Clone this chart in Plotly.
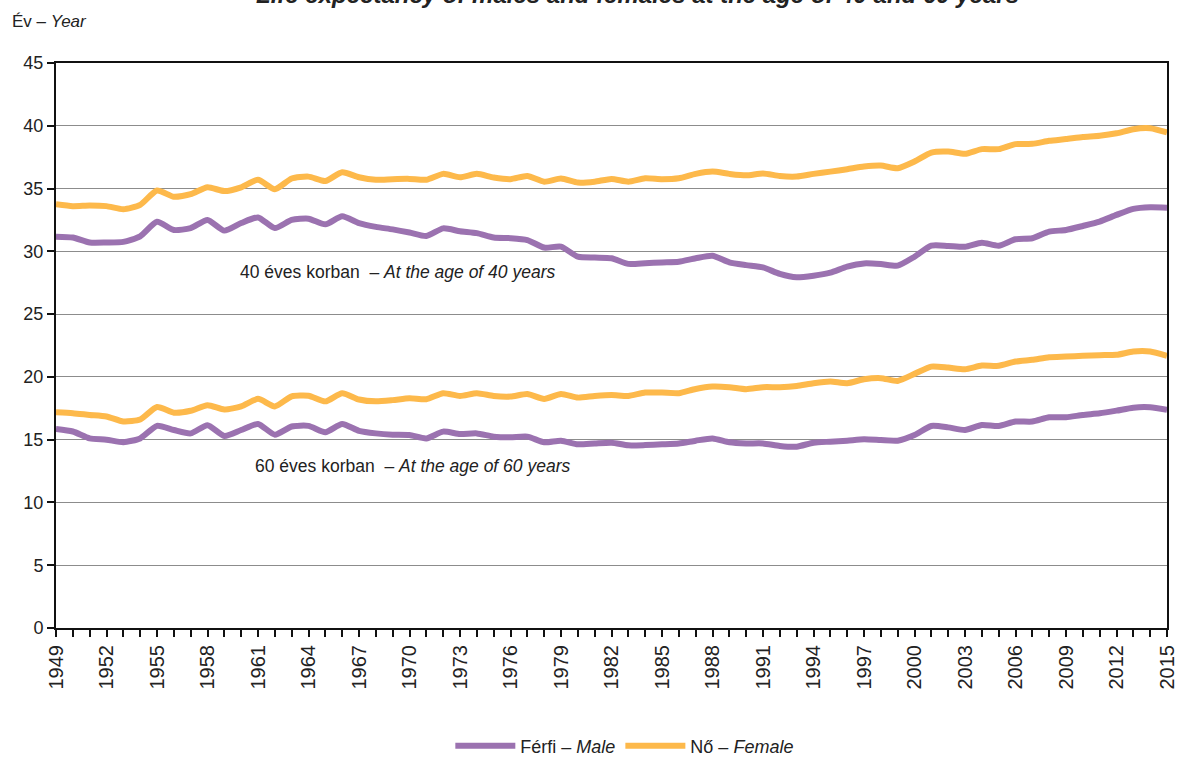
import plotly.graph_objects as go

years = list(range(1949, 2016))

male_40 = [31.17, 31.1, 30.7, 30.7, 30.75, 31.2, 32.35, 31.7, 31.85, 32.5,
           31.65, 32.25, 32.7, 31.85, 32.5, 32.6, 32.15, 32.8, 32.25, 31.95,
           31.75, 31.5, 31.22, 31.83, 31.6, 31.45, 31.1, 31.05, 30.9, 30.3,
           30.37, 29.57, 29.5, 29.45, 29.0, 29.05, 29.12, 29.17, 29.45, 29.65,
           29.12, 28.9, 28.72, 28.2, 27.93, 28.06, 28.3, 28.78, 29.04, 28.99,
           28.86, 29.57, 30.45, 30.43, 30.37, 30.69, 30.45, 30.96, 31.04, 31.57,
           31.7, 32.02, 32.37, 32.9, 33.38, 33.51, 33.48]

female_40 = [33.75, 33.6, 33.65, 33.6, 33.35, 33.7, 34.85, 34.35, 34.55, 35.1,
             34.8, 35.1, 35.7, 34.95, 35.8, 35.95, 35.6, 36.3, 35.9, 35.7,
             35.75, 35.77, 35.7, 36.17, 35.9, 36.17, 35.88, 35.75, 36.0, 35.55,
             35.8, 35.48, 35.55, 35.77, 35.55, 35.82, 35.75, 35.82, 36.17, 36.35,
             36.17, 36.05, 36.2, 36.0, 35.96, 36.17, 36.35, 36.54, 36.75, 36.83,
             36.62, 37.15, 37.87, 37.95, 37.77, 38.14, 38.14, 38.54, 38.56, 38.8,
             38.94, 39.1, 39.2, 39.4, 39.73, 39.8, 39.47]

male_60 = [15.85, 15.65, 15.1, 15.0, 14.8, 15.1, 16.1, 15.77, 15.5, 16.15,
           15.3, 15.77, 16.25, 15.4, 16.05, 16.1, 15.6, 16.25, 15.7, 15.5,
           15.4, 15.37, 15.1, 15.64, 15.45, 15.5, 15.24, 15.19, 15.24, 14.79,
           14.92, 14.63, 14.7, 14.76, 14.55, 14.57, 14.63, 14.7, 14.92, 15.1,
           14.79, 14.7, 14.7, 14.5, 14.44, 14.76, 14.84, 14.92, 15.03, 14.97,
           14.92, 15.37, 16.09, 15.98, 15.77, 16.17, 16.09, 16.44, 16.44, 16.78,
           16.78, 16.97, 17.1, 17.31, 17.55, 17.58, 17.37]

female_60 = [17.18, 17.1, 16.97, 16.85, 16.45, 16.6, 17.6, 17.15, 17.3, 17.75,
             17.4, 17.65, 18.25, 17.65, 18.45, 18.5, 18.05, 18.7, 18.2, 18.05,
             18.15, 18.3, 18.22, 18.7, 18.48, 18.7, 18.48, 18.43, 18.64, 18.24,
             18.64, 18.35, 18.48, 18.56, 18.48, 18.75, 18.75, 18.7, 19.04, 19.23,
             19.18, 19.02, 19.18, 19.18, 19.28, 19.5, 19.63, 19.5, 19.81, 19.9,
             19.68, 20.24, 20.82, 20.74, 20.61, 20.9, 20.88, 21.22, 21.36, 21.57,
             21.62, 21.68, 21.73, 21.76, 22.02, 22.02, 21.68]

male_name = "Férfi – <i>Male</i>"
female_name = "Nő – <i>Female</i>"
title_text = "<b><i>Life expectancy of males and females at the age of 40 and 60 years</i></b>"
label_40 = "40 éves korban  – <i>At the age of 40 years</i>"
label_60 = "60 éves korban  – <i>At the age of 60 years</i>"
y_title = "Év – <i>Year</i>"

PURPLE = "#9b72b0"
ORANGE = "#fdb94b"
FONT = "Liberation Sans Narrow, Liberation Sans, Arial, sans-serif"
TXT = "#222222"

fig = go.Figure()
fig.add_trace(go.Scatter(x=years, y=male_40, mode="lines", name=male_name,
                         line=dict(color=PURPLE, width=6, shape="spline", smoothing=0.6),
                         legendgroup="m"))
fig.add_trace(go.Scatter(x=years, y=female_40, mode="lines", name=female_name,
                         line=dict(color=ORANGE, width=6, shape="spline", smoothing=0.6),
                         legendgroup="f"))
fig.add_trace(go.Scatter(x=years, y=male_60, mode="lines", name=male_name,
                         line=dict(color=PURPLE, width=6, shape="spline", smoothing=0.6),
                         legendgroup="m", showlegend=False))
fig.add_trace(go.Scatter(x=years, y=female_60, mode="lines", name=female_name,
                         line=dict(color=ORANGE, width=6, shape="spline", smoothing=0.6),
                         legendgroup="f", showlegend=False))

fig.add_annotation(x=1959.8, y=28.35, xref="x", yref="y", text=label_40,
                   showarrow=False, xanchor="left", yanchor="middle",
                   font=dict(family=FONT, size=17.5, color=TXT))
fig.add_annotation(x=1960.7, y=12.9, xref="x", yref="y", text=label_60,
                   showarrow=False, xanchor="left", yanchor="middle",
                   font=dict(family=FONT, size=17.5, color=TXT))
fig.add_annotation(x=-0.0414, y=1.0726, xref="paper", yref="paper", text=y_title,
                   showarrow=False, xanchor="left", yanchor="middle",
                   font=dict(family=FONT, size=17, color=TXT))
fig.add_annotation(x=0.5234, y=1.1212, xref="paper", yref="paper", text=title_text,
                   showarrow=False, xanchor="center", yanchor="middle",
                   font=dict(family=FONT, size=24, color=TXT))

fig.update_layout(
    width=1181, height=758,
    paper_bgcolor="white", plot_bgcolor="white",
    margin=dict(l=56, r=14, t=63, b=130, autoexpand=False),
    font=dict(family=FONT, size=16, color=TXT),
    showlegend=True,
    legend=dict(orientation="h", x=0.512, xanchor="center", y=-0.209, yref="paper",
                yanchor="middle", font=dict(family=FONT, size=18, color=TXT),
                itemwidth=60, bgcolor="rgba(0,0,0,0)"),
    xaxis=dict(range=[1949, 2015], tickmode="linear", tick0=1949, dtick=3,
               tickangle=-90, ticks="outside", ticklen=7, tickwidth=2, tickcolor="#111",
               showline=True, linecolor="#111", linewidth=2, mirror=True,
               showgrid=False, zeroline=False, automargin=False,
               minor=dict(dtick=1, tick0=1949, ticks="outside", ticklen=7, tickwidth=2,
                          tickcolor="#111", showgrid=False),
               tickfont=dict(family=FONT, size=20, color=TXT)),
    yaxis=dict(range=[0, 45], tickmode="linear", tick0=0, dtick=5,
               ticks="outside", ticklen=7, tickwidth=2, tickcolor="#111",
               showline=True, linecolor="#111", linewidth=2, mirror=True,
               showgrid=True, gridcolor="#8c8c8c", gridwidth=1.3, zeroline=False,
               automargin=False,
               tickfont=dict(family=FONT, size=18, color=TXT)),
)

fig.write_html("out.html", config={"displayModeBar": False},
               post_script="document.body.style.margin='0px';document.body.style.overflow='hidden';")
